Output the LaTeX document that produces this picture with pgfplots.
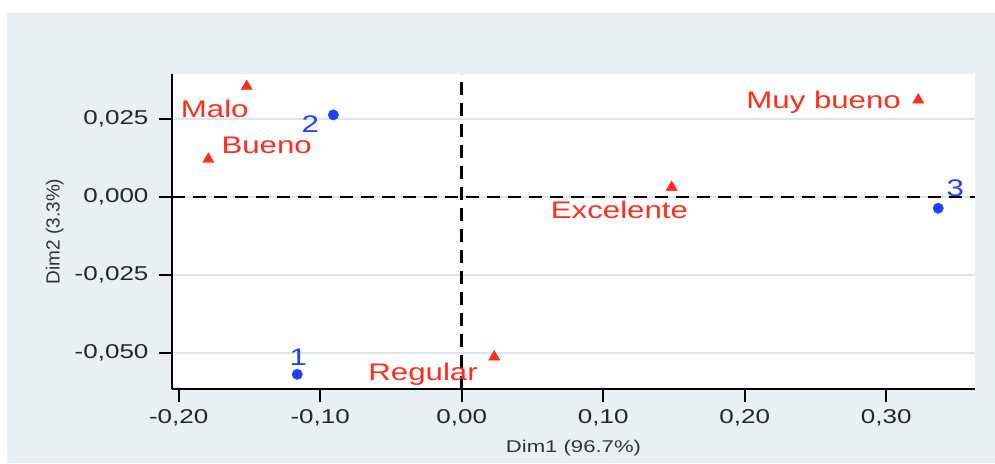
\documentclass[border=0pt]{standalone}
\usepackage{pgfplots}
\pgfplotsset{compat=1.18}
\usepackage{fontspec}
\setmainfont{Liberation Sans}
\newfontfamily\wide[FakeStretch=1.3]{Liberation Sans}
\definecolor{panel}{HTML}{E8F0F3}
\definecolor{gridc}{HTML}{DCE7EC}
\definecolor{myred}{HTML}{FF2D1E}
\definecolor{myblue}{HTML}{1F40FF}
\tikzset{lbl/.style={font=\wide\fontsize{24}{28}\selectfont, inner sep=0pt}}
\begin{document}
\begin{tikzpicture}[x=1pt,y=1pt]
\fill[white] (0,0) rectangle (995,463);
\fill[panel] (7,0) rectangle (995,450);
\useasboundingbox (0,0) rectangle (995,463);
\begin{axis}[
  at={(172pt,74pt)}, anchor=south west,
  scale only axis, width=803pt, height=315pt,
  xmin=-0.2047, xmax=0.3627, ymin=-0.0615, ymax=0.0394,
  axis background/.style={fill=white},
  axis x line*=bottom, axis y line*=left,
  axis line style={line width=2.2pt, black, -},
  xtick={-0.2,-0.1,0,0.1,0.2,0.3},
  ytick={-0.05,-0.025,0,0.025},
  tick align=outside, major tick length=13pt,
  tick style={line width=2.2pt, black},
  ymajorgrids, major grid style={gridc, line width=1.5pt},
  xticklabel style={yshift=-4pt, /pgf/number format/.cd, fixed, fixed zerofill, precision=2, use comma, assume math mode=true},
  yticklabel style={xshift=-7pt, /pgf/number format/.cd, fixed, fixed zerofill, precision=3, use comma, assume math mode=true},
  ticklabel style={font=\wide\fontsize{20}{24}\selectfont, text=black!85},
  scaled x ticks=false, scaled y ticks=false,
  xlabel={Dim1 (96.7\%)}, ylabel={Dim2 (3.3\%)},
  x label style={font=\wide\fontsize{17}{20}\selectfont, text=black!80, at={(axis description cs:0.5,-0.187)}, anchor=center},
  y label style={font=\fontsize{19}{22}\selectfont, text=black!80, at={(axis description cs:-0.146,0.5)}, anchor=center},
  clip=false,
  point meta=explicit symbolic,
]
\addplot[black, line width=2.5pt, dash pattern=on 13pt off 8pt] coordinates {(-0.2047,0) (0.3627,0)};
\addplot[black, line width=2.5pt, dash pattern=on 13pt off 8pt] coordinates {(0,-0.0615) (0,0.0394)};
% categories (red triangles)
\addplot[only marks, mark=triangle*, mark size=6.5pt, myred, nodes near coords, nodes near coords style={lbl, text=myred, anchor=base west, xshift=-66pt, yshift=-31pt}] coordinates {(-0.1519,0.0354) [Malo]};
\addplot[only marks, mark=triangle*, mark size=6.5pt, myred, nodes near coords, nodes near coords style={lbl, text=myred, anchor=base west, xshift=13pt, yshift=6pt}] coordinates {(-0.1790,0.0121) [Bueno]};
\addplot[only marks, mark=triangle*, mark size=6.5pt, myred, nodes near coords, nodes near coords style={lbl, text=myred, anchor=base west, xshift=-121pt, yshift=-31pt}] coordinates {(0.1484,0.0031) [Excelente]};
\addplot[only marks, mark=triangle*, mark size=6.5pt, myred, nodes near coords, nodes near coords style={lbl, text=myred, anchor=base west, xshift=-172pt, yshift=-9pt}] coordinates {(0.3226,0.0311) [Muy bueno]};
\addplot[only marks, mark=triangle*, mark size=6.5pt, myred, nodes near coords, nodes near coords style={lbl, text=myred, anchor=base west, xshift=-126pt, yshift=-24pt}] coordinates {(0.0230,-0.0512) [Regular]};
% groups (blue circles)
\addplot[only marks, mark=*, mark size=5.2pt, myblue, nodes near coords, nodes near coords style={lbl, text=myblue, anchor=base, xshift=1pt, yshift=9pt}] coordinates {(-0.1162,-0.0568) [1]};
\addplot[only marks, mark=*, mark size=5.2pt, myblue, nodes near coords, nodes near coords style={lbl, text=myblue, anchor=base, xshift=-23pt, yshift=-18pt}] coordinates {(-0.0907,0.0263) [2]};
\addplot[only marks, mark=*, mark size=5.2pt, myblue, nodes near coords, nodes near coords style={lbl, text=myblue, anchor=base, xshift=17pt, yshift=12pt}] coordinates {(0.3367,-0.0036) [3]};
\end{axis}
\end{tikzpicture}
\end{document}
